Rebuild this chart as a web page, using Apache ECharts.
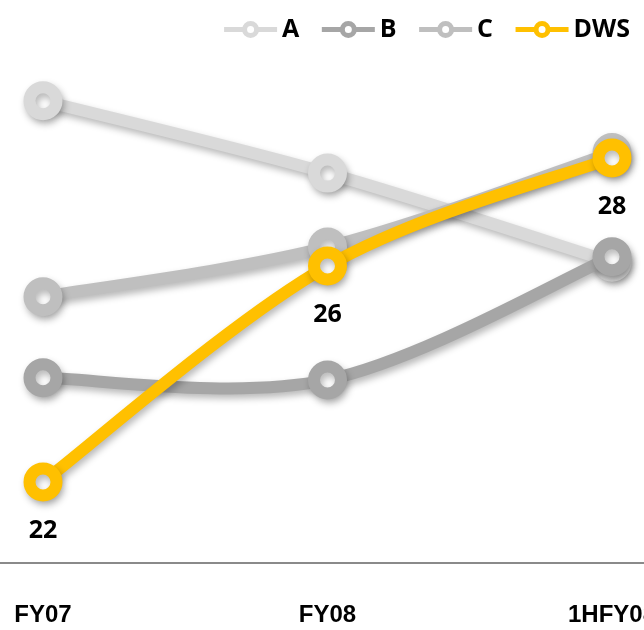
<!DOCTYPE html>
<html>
<head>
<meta charset="utf-8">
<script src="https://cdn.jsdelivr.net/npm/echarts@6/dist/echarts.min.js"></script>
<style>
  html, body { margin: 0; padding: 0; background: #ffffff; }
  #chart { width: 644px; height: 630px; }
</style>
</head>
<body>
<div id="chart"></div>
<script>
// Periods on the horizontal axis
const periods = ['FY07', 'FY08', '1HFY08'];

// Series values per period
const seriesNames = ['A', 'B', 'C', 'DWS'];
const valuesA = [29.06, 27.72, 26.07];
const valuesB = [23.93, 23.89, 26.17];
const valuesC = [25.43, 26.35, 28.1];
const valuesDWS = [22, 26, 28];

const seriesColors = {
  A: '#d9d9d9',
  B: '#a6a6a6',
  C: '#bfbfbf',
  DWS: '#ffc000'
};

const seriesValues = { A: valuesA, B: valuesB, C: valuesC, DWS: valuesDWS };

const shadow = {
  shadowColor: 'rgba(0,0,0,0.28)',
  shadowBlur: 7,
  shadowOffsetX: 2,
  shadowOffsetY: 4
};

const chart = echarts.init(document.getElementById('chart'), null, { renderer: 'canvas' });

// Smoothed curve: one cubic Bezier per segment, control points taken from
// the neighbouring points (Catmull-Rom style, 1/6 of the neighbour span).
function curveSeries(name, z) {
  const values = seriesValues[name];
  const color = seriesColors[name];
  return {
    name: name + ' line',
    type: 'custom',
    xAxisIndex: 1,
    yAxisIndex: 1,
    z: z,
    clip: false,
    silent: true,
    data: values.map((v, i) => [i, v]),
    renderItem: function (params, api) {
      const i = params.dataIndex;
      const n = values.length;
      if (i >= n - 1) return null;
      const pt = (k) => {
        const kk = Math.max(0, Math.min(n - 1, k));
        return api.coord([kk, values[kk]]);
      };
      const p0 = pt(i - 1), p1 = pt(i), p2 = pt(i + 1), p3 = pt(i + 2);
      return {
        type: 'bezierCurve',
        shape: {
          x1: p1[0], y1: p1[1],
          x2: p2[0], y2: p2[1],
          cpx1: p1[0] + (p2[0] - p0[0]) / 6,
          cpy1: p1[1] + (p2[1] - p0[1]) / 6,
          cpx2: p2[0] - (p3[0] - p1[0]) / 6,
          cpy2: p2[1] - (p3[1] - p1[1]) / 6
        },
        style: Object.assign({
          fill: null,
          stroke: color,
          lineWidth: 12,
          lineCap: 'round'
        }, shadow)
      };
    }
  };
}

// Markers (and DWS value labels) on the same axes
function markerSeries(name, z) {
  const color = seriesColors[name];
  const s = {
    name: name,
    type: 'line',
    xAxisIndex: 1,
    yAxisIndex: 1,
    z: z,
    data: seriesValues[name],
    clip: false,
    symbol: 'circle',
    symbolSize: 27,
    color: color,
    lineStyle: { color: color, width: 12, opacity: 0 },
    itemStyle: Object.assign({
      color: '#ffffff',
      borderColor: color,
      borderWidth: 12
    }, shadow),
    emphasis: { disabled: true },
    label: { show: false }
  };
  if (name === 'DWS') {
    s.label = {
      show: true,
      position: 'bottom',
      distance: 17,
      color: '#000000',
      fontFamily: '"Open Sans", "Noto Sans", sans-serif',
      fontWeight: 'bold',
      fontSize: 25
    };
  }
  return s;
}

const allSeries = [];
seriesNames.forEach((name, idx) => {
  allSeries.push(curveSeries(name, 2 + idx));
  allSeries.push(markerSeries(name, 2 + idx));
});

const option = {
  backgroundColor: '#ffffff',
  animation: false,
  legend: {
    data: seriesNames,
    right: 9,
    top: 12,
    itemWidth: 53,
    itemHeight: 15,
    itemGap: 20,
    textStyle: {
      color: '#000000',
      fontFamily: '"Open Sans", "Noto Sans", sans-serif',
      fontWeight: 'bold',
      fontSize: 25
    },
    itemStyle: {
      borderWidth: 5,
      shadowBlur: 0,
      shadowOffsetX: 0,
      shadowOffsetY: 0
    },
    lineStyle: {
      width: 5,
      opacity: 1,
      shadowBlur: 0,
      shadowOffsetX: 0,
      shadowOffsetY: 0
    }
  },
  grid: [
    // full-width baseline
    { left: 0, right: 0, top: 50, bottom: 67, outerBoundsMode: 'none' },
    // plotting area for the lines
    { left: 43, right: 32, top: 50, bottom: 67, outerBoundsMode: 'none' }
  ],
  xAxis: [
    {
      gridIndex: 0,
      type: 'value',
      min: 0,
      max: 1,
      axisLine: { show: true, lineStyle: { color: '#8a8a8a', width: 2 } },
      axisTick: { show: false },
      axisLabel: { show: false },
      splitLine: { show: false }
    },
    {
      gridIndex: 1,
      type: 'category',
      data: periods,
      boundaryGap: false,
      axisLine: { show: false },
      axisTick: { show: false },
      splitLine: { show: false },
      axisLabel: {
        margin: 40,
        color: '#000000',
        fontFamily: '"Liberation Sans", Arial, sans-serif',
        fontWeight: 'bold',
        fontSize: 24
      }
    }
  ],
  yAxis: [
    { gridIndex: 0, type: 'value', show: false, min: 0, max: 1, splitLine: { show: false } },
    { gridIndex: 1, type: 'value', show: false, min: 20.5, max: 30, splitLine: { show: false } }
  ],
  series: allSeries
};

chart.setOption(option);
</script>
</body>
</html>
